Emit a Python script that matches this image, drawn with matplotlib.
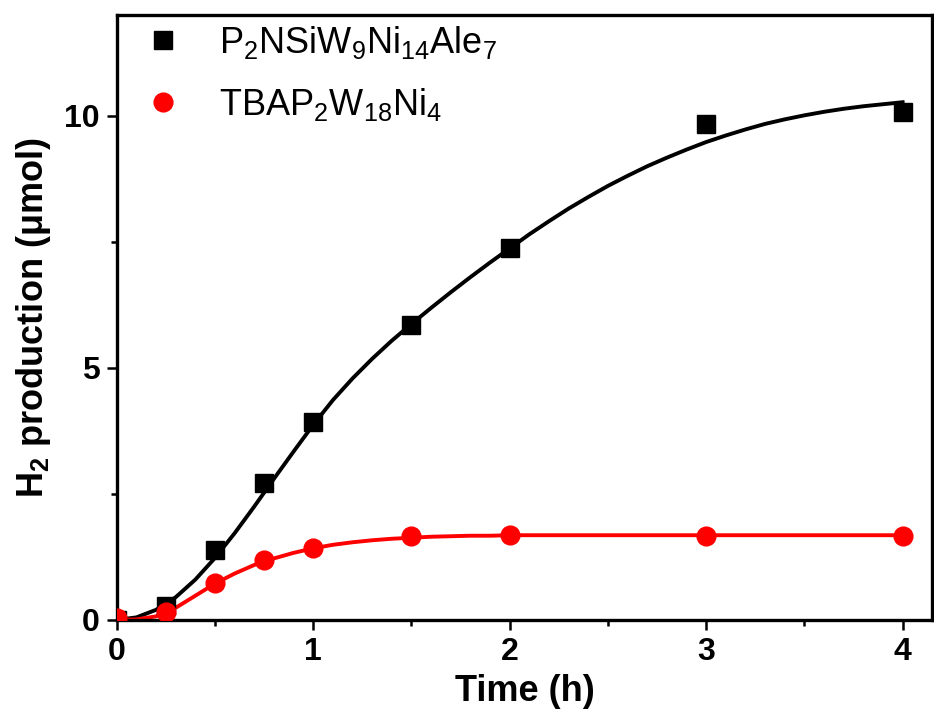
import numpy as np
import matplotlib
matplotlib.use("Agg")
import matplotlib.pyplot as plt
from matplotlib.ticker import MultipleLocator

# measured points
t = [0, 0.25, 0.5, 0.75, 1, 1.5, 2, 3, 4]
h2_ale = [0.0, 0.28, 1.39, 2.72, 3.93, 5.85, 7.38, 9.83, 10.07]
h2_tbap = [0.04, 0.15, 0.74, 1.19, 1.43, 1.66, 1.69, 1.66, 1.66]

# fitted curves, every 0.1 h
t_fit = [round(0.1 * i, 1) for i in range(41)]
fit_ale = [0.00, 0.05, 0.20, 0.45, 0.80, 1.23, 1.72, 2.25, 2.80, 3.34,
           3.87, 4.36, 4.79, 5.18, 5.54, 5.87, 6.19, 6.50, 6.80, 7.09,
           7.37, 7.65, 7.91, 8.16, 8.39, 8.61, 8.81, 9.00, 9.17, 9.33,
           9.48, 9.61, 9.73, 9.84, 9.93, 10.01, 10.08, 10.14, 10.19, 10.23,
           10.27]
fit_tbap = [0.00, 0.01, 0.07, 0.24, 0.48, 0.72, 0.92, 1.09, 1.22, 1.33,
            1.42, 1.49, 1.54, 1.58, 1.61, 1.63, 1.65, 1.66, 1.67, 1.67,
            1.68, 1.68, 1.68, 1.68, 1.68, 1.68, 1.68, 1.68, 1.68, 1.68,
            1.68, 1.68, 1.68, 1.68, 1.68, 1.68, 1.68, 1.68, 1.68, 1.68,
            1.68]

labels = [r"$\mathregular{P_2NSiW_9Ni_{14}Ale_7}$",
          r"$\mathregular{TBAP_2W_{18}Ni_4}$"]

plt.rcParams["font.family"] = ["Liberation Sans", "DejaVu Sans"]
plt.rcParams["mathtext.fontset"] = "custom"
plt.rcParams["mathtext.rm"] = "Liberation Sans"
plt.rcParams["mathtext.bf"] = "Liberation Sans:bold"

fig = plt.figure(figsize=(9.34, 7.15), dpi=100)
ax = fig.add_axes([0.125, 0.133, 0.873, 0.846])

ax.plot(t_fit, fit_ale, color="black", lw=2.8, zorder=2)
ax.plot(t_fit, fit_tbap, color="#ff0000", lw=2.8, zorder=2)
ax.plot(t, h2_ale, "s", color="black", ms=12.5, zorder=3)
ax.plot(t, h2_tbap, "o", color="#ff0000", ms=13.5, zorder=3)

ax.set_xlim(0, 4.15)
ax.set_ylim(0, 12)
ax.xaxis.set_major_locator(MultipleLocator(1))
ax.xaxis.set_minor_locator(MultipleLocator(0.5))
ax.yaxis.set_major_locator(MultipleLocator(5))
ax.yaxis.set_minor_locator(MultipleLocator(2.5))
ax.tick_params(which="major", direction="out", length=7, width=1.8,
               labelsize=23, pad=5)
ax.tick_params(which="minor", direction="out", length=4.5, width=1.8)
ax.tick_params(top=False, right=False, which="both")
for lab in ax.get_xticklabels() + ax.get_yticklabels():
    lab.set_fontweight("bold")
for s in ax.spines.values():
    s.set_linewidth(2.4)

ax.set_xlabel("Time (h)", fontsize=26, fontweight="bold", labelpad=5)
ax.set_ylabel(r"$\mathbf{H_2}$ production (μmol)", fontsize=26,
              fontweight="bold", labelpad=8)

# legend drawn by hand to match the layout
ax.plot([0.235], [11.5], "s", color="black", ms=12.5, clip_on=False)
ax.plot([0.235], [10.27], "o", color="#ff0000", ms=13.5, clip_on=False)
ax.text(0.52, 11.45, labels[0], fontsize=26, va="center", ha="left")
ax.text(0.52, 10.22, labels[1], fontsize=26, va="center", ha="left")

fig.savefig("out.png", dpi=100)
